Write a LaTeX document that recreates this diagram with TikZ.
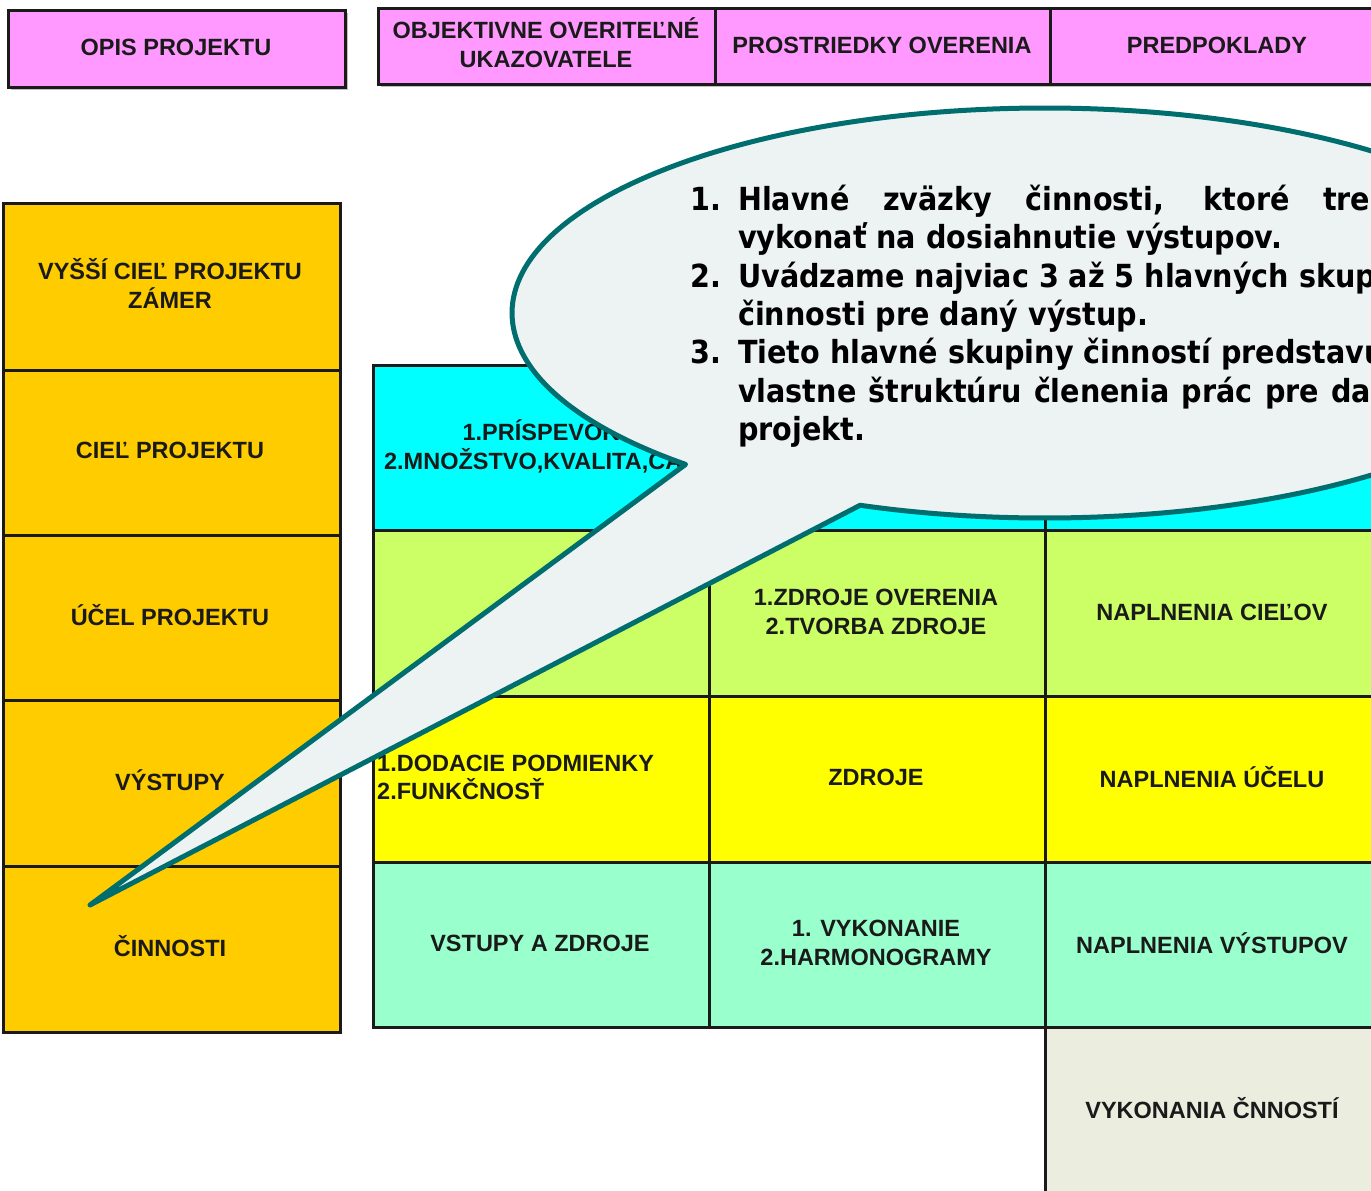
\documentclass[tikz,border=0pt]{standalone}
\usepackage{fontspec}
\setmainfont{Liberation Sans}
\newfontfamily\calloutfont{DejaVu Sans Condensed}
\usetikzlibrary{calc}

\definecolor{headpink}{HTML}{FF99FF}
\definecolor{leftgold}{HTML}{FFCC00}
\definecolor{rowcyan}{HTML}{00FFFF}
\definecolor{rowlime}{HTML}{CCFF66}
\definecolor{rowyellow}{HTML}{FFFF00}
\definecolor{rowmint}{HTML}{99FFCC}
\definecolor{rowbeige}{HTML}{EBEEDF}
\definecolor{inkdark}{HTML}{1A1A1A}
\definecolor{bubblefill}{HTML}{EDF3F3}
\definecolor{bubbleline}{HTML}{006E6E}

\tikzset{
  cellbox/.style={draw=inkdark, line width=3pt},
  celltext/.style={font=\fontsize{23.5}{29}\bfseries, text=inkdark, align=center, inner sep=0pt},
  celltextl/.style={font=\fontsize{23.5}{28}\bfseries, text=inkdark, align=left, inner sep=0pt},
  bubble/.style={draw=bubbleline, line width=5pt, fill=bubblefill, line join=round},
  bubbletext/.style={font=\calloutfont\fontsize{31.8}{38}\bfseries, text=black, inner sep=0pt, anchor=base west},
}

\begin{document}
\begin{tikzpicture}[x=1pt, y=-1pt]
\useasboundingbox (0,0) rectangle (1371,1191);
\clip (0,0) rectangle (1371,1191);
\fill[white] (0,0) rectangle (1371,1191);

% header row
\fill[black!25] (11,13) rectangle (348,90);
\fill[black!25] (381,11) rectangle (1390,87);
\draw[cellbox, fill=headpink] (8,10) rectangle (345,87);
\draw[cellbox, fill=headpink] (378,8) rectangle (1390,84);
\draw[cellbox] (715,8) -- (715,84);
\draw[cellbox] (1050,8) -- (1050,84);
\node[celltext] (hopis) at (176,47) {OPIS PROJEKTU};
\node[celltext] (hovu) at (546,43) {OBJEKTIVNE OVERITEĽNÉ\\UKAZOVATELE};
\node[celltext] (hpro) at (882,45) {PROSTRIEDKY OVERENIA};
\node[celltext] (hpre) at (1217,45) {PREDPOKLADY};

% left column: levels of the logical framework
\foreach \ya/\yb in {203/370, 370/535, 535/700, 700/866, 866/1032}
  \draw[cellbox, fill=leftgold] (3,\ya) rectangle (340,\yb);
\node[celltext] (lzamer) at (170,283) {VYŠŠÍ CIEĽ PROJEKTU\\ZÁMER};
\node[celltext] (lciel) at (170,450) {CIEĽ PROJEKTU};
\node[celltext] (lucel) at (170,615) {ÚČEL PROJEKTU};
\node[celltext] (lvyst) at (170,780) {VÝSTUPY};
\node[celltext] (lcinn) at (170,946) {ČINNOSTI};

% main grid rows
\draw[cellbox, fill=rowcyan] (373,365) rectangle (1390,530);
\draw[cellbox, fill=rowlime] (373,530) rectangle (1390,696);
\draw[cellbox, fill=rowyellow] (373,696) rectangle (1390,862);
\draw[cellbox, fill=rowmint] (373,862) rectangle (1390,1027);
\draw[cellbox, fill=rowbeige] (1045,1027) rectangle (1390,1200);
\draw[cellbox] (709,365) -- (709,1027);
\draw[cellbox] (1045,365) -- (1045,1027);

% grid texts
\node[celltext] (c11) at (541,446) {1.PRÍSPEVOK\\2.MNOŽSTVO,KVALITA,ČAS};
\node[celltext] (c22) at (876,612) {1.ZDROJE OVERENIA\\2.TVORBA ZDROJE};
\node[celltext] (c23) at (1212,612) {NAPLNENIA CIEĽOV};
\node[celltextl, anchor=west] (c31) at (377,777) {1.DODACIE PODMIENKY\\2.FUNKČNOSŤ};
\node[celltext] (c32) at (876,777) {ZDROJE};
\node[celltext] (c33) at (1212,777) {NAPLNENIA ÚČELU};
\node[celltext] (c41) at (540,943) {VSTUPY A ZDROJE};
\node[celltext] (c42) at (876,943) {1. VYKONANIE\\2.HARMONOGRAMY};
\node[celltext] (c43) at (1212,943) {NAPLNENIA VÝSTUPOV};
\node[celltext] (c53) at (1212,1108) {VYKONANIA ČNNOSTÍ};

% callout bubble with its pointer
\coordinate (bc) at (1045,313);
\coordinate (tip) at (90,905);
\coordinate (pa) at ({1045+533*cos(132.4)},{313+205*sin(132.4)});
\draw[bubble] (tip) -- (pa)
  arc[start angle=132.4, end angle=470.3, x radius=533, y radius=205]
  -- cycle;

% callout text
\node[bubbletext] (n1) at (690,210) {1.};
\node[bubbletext] (t1) at (738,210) {\makebox[672pt][s]{Hlavné zväzky činnosti, ktoré treba}};
\node[bubbletext] (t2) at (738,248) {vykonať na dosiahnutie výstupov.};
\node[bubbletext] (n2) at (690,287) {2.};
\node[bubbletext] (t3) at (738,287) {Uvádzame najviac 3 až 5 hlavných skupín};
\node[bubbletext] (t4) at (738,325) {činnosti pre daný výstup.};
\node[bubbletext] (n3) at (690,363) {3.};
\node[bubbletext] (t5) at (738,363) {Tieto hlavné skupiny činností predstavujú};
\node[bubbletext] (t6) at (738,402) {\makebox[672pt][s]{vlastne štruktúru členenia prác pre daný}};
\node[bubbletext] (t7) at (738,440) {projekt.};
\end{tikzpicture}
\end{document}
